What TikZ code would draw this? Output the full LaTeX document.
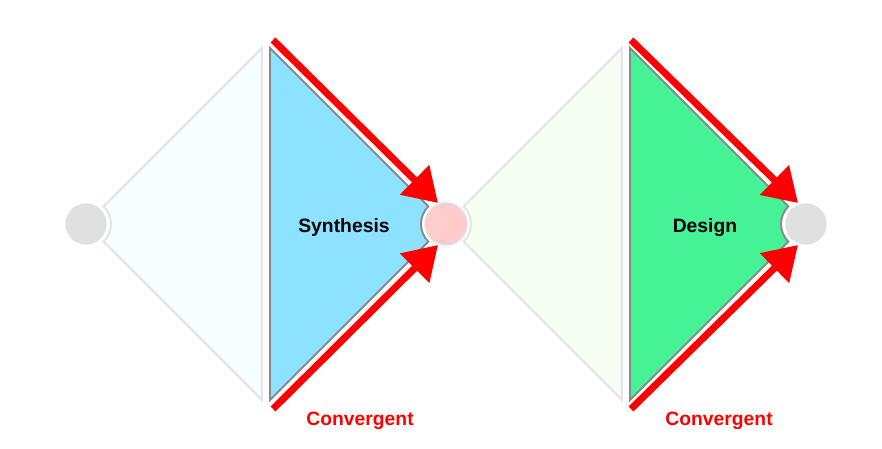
\documentclass[tikz,border=0pt]{standalone}
\usepackage{fontspec}
\setmainfont{Liberation Sans}
\usepackage{xcolor}
\usepackage{tikz}
\usetikzlibrary{arrows.meta,calc}

\definecolor{synfill}{HTML}{8CE2FF}
\definecolor{desfill}{HTML}{45F296}
\definecolor{fadeblue}{HTML}{F6FDFF}
\definecolor{fadegreen}{HTML}{F6FEF4}
\definecolor{dotgray}{HTML}{E0E0E0}
\definecolor{dotpink}{HTML}{FFCCCC}
\definecolor{edgegray}{HTML}{8A8A8A}
\definecolor{fadeedge}{HTML}{E3E3E3}
\definecolor{convred}{HTML}{FF0000}

\begin{document}
\begin{tikzpicture}[
  x=0.02cm,y=-0.02cm,
  font=\bfseries\fontsize{11}{13}\selectfont,
  halfin/.style={draw=fadeedge,line width=1.1pt,line join=miter},
  halfout/.style={draw=edgegray,line width=1.1pt,line join=miter},
  dot/.style={circle,fill=dotgray,draw=black!12,line width=0.8pt,minimum size=0.8cm,inner sep=0pt},
  conv/.style={convred,line width=0.14cm,-{Triangle[length=0.66cm,width=0.8cm]}},
  lbl/.style={anchor=base,text=black},
  clbl/.style={anchor=base,text=convred}
]
\useasboundingbox (0,0) rectangle (882,449);
% stage points
\coordinate (c0) at (86,224);
\coordinate (c1) at (446,224);
\coordinate (c2) at (806,224);
% diverging halves (faded)
\path[halfin,fill=fadeblue] (262,48) -- ($(c0)+(-45:25)$) arc[start angle=-45,end angle=45,radius=25] -- (262,400) -- cycle;
\path[halfin,fill=fadegreen] (622,48) -- ($(c1)+(-45:25)$) arc[start angle=-45,end angle=45,radius=25] -- (622,400) -- cycle;
% converging halves
\path[halfout,fill=synfill] (270,48) -- ($(c1)+(225:25)$) arc[start angle=225,end angle=135,radius=25] -- (270,400) -- cycle;
\path[halfout,fill=desfill] (630,48) -- ($(c2)+(225:25)$) arc[start angle=225,end angle=135,radius=25] -- (630,400) -- cycle;
\node[dot] (p0) at (c0) {};
\node[dot,fill=dotpink,minimum size=0.84cm] (p1) at (c1) {};
\node[dot] (p2) at (c2) {};
\node[lbl] (syn) at (344,233) {Synthesis};
\node[lbl] (des) at (705,233) {Design};
\node[clbl] (cv1) at (360,425) {Convergent};
\node[clbl] (cv2) at (719,425) {Convergent};
% arrows
\foreach \p/\x in {p1/273,p2/631} {
  \coordinate (\p top) at (\x,40);
  \coordinate (\p bot) at (\x,409);
  \draw[conv] (\p top) -- ($(\p)+(-8,-21)$);
  \draw[conv] (\p bot) -- ($(\p)+(-8,21)$);
}
\end{tikzpicture}
\end{document}
